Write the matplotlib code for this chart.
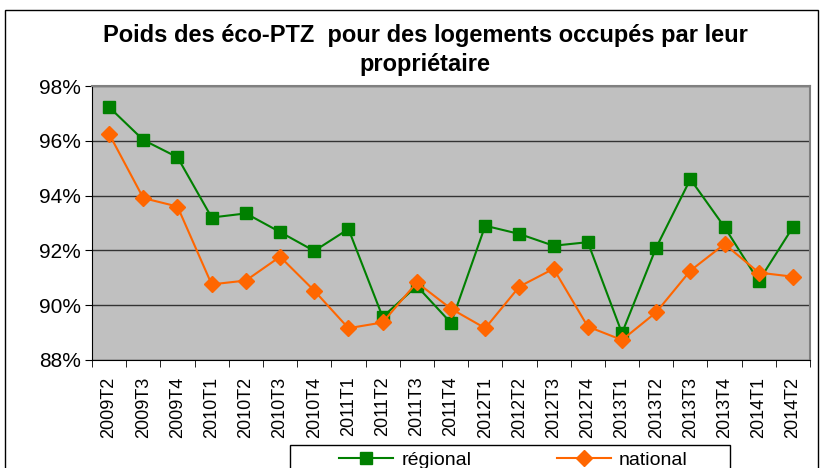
import matplotlib.pyplot as plt
import matplotlib.patches as patches
from matplotlib.ticker import FuncFormatter, FixedLocator

plt.rcParams['font.family'] = ['Liberation Sans', 'DejaVu Sans']

# trimestres
trimestres = ['2009T2', '2009T3', '2009T4', '2010T1', '2010T2', '2010T3', '2010T4',
              '2011T1', '2011T2', '2011T3', '2011T4', '2012T1', '2012T2', '2012T3',
              '2012T4', '2013T1', '2013T2', '2013T3', '2013T4', '2014T1', '2014T2']

regional = [97.23, 96.03, 95.4, 93.2, 93.35, 92.67, 91.98, 92.78, 89.57, 90.7, 89.35,
            92.9, 92.6, 92.17, 92.3, 88.98, 92.1, 94.6, 92.85, 90.88, 92.85]
national = [96.25, 93.91, 93.6, 90.76, 90.9, 91.77, 90.53, 89.16, 89.37, 90.83, 89.87,
            89.16, 90.68, 91.33, 89.22, 88.73, 89.74, 91.26, 92.23, 91.19, 91.04]

fig = plt.figure(figsize=(8.32, 4.68), dpi=100)
ax = fig.add_axes([0.1106, 0.2308, 0.863, 0.5854])
ax.set_facecolor('#c0c0c0')

x = range(len(trimestres))
ax.plot(x, regional, color='#008000', lw=1.5, marker='s', ms=8, label='régional')
ax.plot(x, national, color='#ff6600', lw=1.5, marker='D', ms=8, label='national')

ax.set_xlim(-0.5, len(trimestres) - 0.5)
ax.set_ylim(88, 98)
ax.set_yticks([88, 90, 92, 94, 96, 98])
ax.yaxis.set_major_formatter(FuncFormatter(lambda v, p: '%d%%' % v))
ax.grid(axis='y', color='#333333', lw=1)
ax.set_axisbelow(True)

ax.set_xticks(list(x))
ax.set_xticklabels(trimestres, rotation=90, fontsize=13)
ax.xaxis.set_minor_locator(FixedLocator([i - 0.5 for i in range(len(trimestres) + 1)]))
ax.tick_params(axis='x', which='major', length=0, pad=12)
ax.tick_params(axis='x', which='minor', length=5, color='black')
ax.tick_params(axis='y', labelsize=15, length=5, pad=3)

for s in ['top', 'right']:
    ax.spines[s].set_color('#808080')
    ax.spines[s].set_linewidth(1.5)
for s in ['left', 'bottom']:
    ax.spines[s].set_color('black')

fig.text(0.511, 0.893, 'Poids des éco-PTZ  pour des logements occupés par leur\npropriétaire',
         ha='center', va='center', fontsize=17, fontweight='bold', linespacing=1.3)

# légende (cadre dessiné à part, coupé par le bas comme l'original)
leg = ax.legend(loc='upper center', bbox_to_anchor=(0.617, 0.035),
                bbox_transform=fig.transFigure, ncol=2, fontsize=14,
                frameon=False, handlelength=2.8, handletextpad=0.4,
                columnspacing=4.4, borderpad=0, borderaxespad=0)
fig.patches.append(patches.Rectangle((290 / 832, -0.05), 440 / 832, 0.099,
                                     transform=fig.transFigure, fill=False,
                                     edgecolor='black', lw=1))

# cadre du graphique
fig.patches.append(patches.Rectangle((0.006, -0.05), 0.977, 1.0286, transform=fig.transFigure,
                                     fill=False, edgecolor='black', lw=1))

fig.savefig('out.png', dpi=100)
